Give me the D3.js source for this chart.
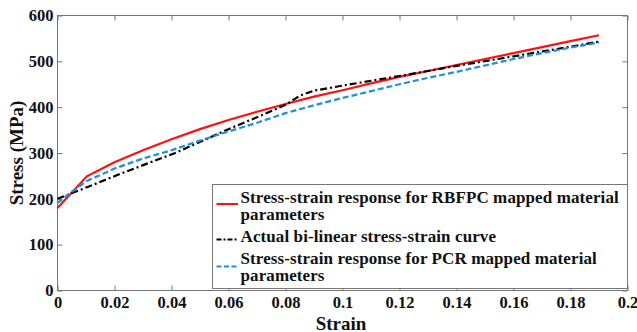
<!DOCTYPE html>
<html>
<head>
<meta charset="utf-8">
<script src="https://cdn.jsdelivr.net/npm/d3@7"></script>
<style>
  body { margin: 0; background: #fff; }
  svg text { font-family: "Times New Roman", "Liberation Serif", "DejaVu Serif", serif; font-weight: bold; }
</style>
</head>
<body>
<svg width="637" height="332"></svg>
<script>
// values
let xTicks = [0, 0.02, 0.04, 0.06, 0.08, 0.1, 0.12, 0.14, 0.16, 0.18, 0.2]
let yTicks = [0, 100, 200, 300, 400, 500, 600]

let redStrain = [0, 0.0103, 0.02, 0.03, 0.04, 0.05, 0.06, 0.07, 0.08, 0.09, 0.1, 0.11, 0.12, 0.13, 0.14, 0.15, 0.16, 0.17, 0.18, 0.19]
let redStress = [180, 249, 280, 306, 330, 352, 372, 390, 407, 423, 437, 452, 466, 479, 492, 505, 518, 531, 544, 557]

let blackStrain = [0, 0.011, 0.0226, 0.0413, 0.06, 0.07, 0.08, 0.085, 0.09, 0.1, 0.12, 0.14, 0.16, 0.18, 0.19]
let blackStress = [200, 227, 256, 300, 352, 378, 405, 425, 436, 447, 468, 490, 511, 532, 543]

let blueStrain = [0, 0.005, 0.01, 0.02, 0.03, 0.04, 0.05, 0.06, 0.07, 0.08, 0.09, 0.1, 0.11, 0.12, 0.13, 0.14, 0.15, 0.16, 0.17, 0.18, 0.19]
let blueStress = [191, 215, 238, 266, 288, 306, 327, 347, 366, 387, 404, 420, 435, 450, 464, 477, 491, 505, 518, 530, 541]

let series = [
  { label: ['Stress-strain response for RBFPC mapped material', 'parameters'], strain: redStrain, stress: redStress, color: '#ff1010', dash: null },
  { label: ['Actual bi-linear stress-strain curve'], strain: blackStrain, stress: blackStress, color: '#000', dash: '7,3,2,3' },
  { label: ['Stress-strain response for PCR mapped material', 'parameters'], strain: blueStrain, stress: blueStress, color: '#1e8fd8', dash: '6,3' }
]

let svg = d3.select('svg')
let m = { left: 57.5, right: 9.5, top: 15.5, bottom: 41.5 }
let w = 637 - m.left - m.right
let h = 332 - m.top - m.bottom

let x = d3.scaleLinear().domain([0, 0.2]).range([0, w])
let y = d3.scaleLinear().domain([0, 600]).range([h, 0])

let g = svg.append('g').attr('transform', `translate(${m.left},${m.top})`)

function styleAxis(sel, labels) {
  sel.select('.domain').remove()
  sel.attr('font-family', null).attr('font-size', null)
  sel.selectAll('.tick line').attr('stroke', '#777')
  sel.selectAll('.tick text')
    .attr('fill', '#111')
    .style('font-size', '16.5px')
  if (!labels) sel.selectAll('.tick text').remove()
}

let fmt = d => d === 0 ? '0' : String(+d.toFixed(2))

g.append('g').attr('transform', `translate(0,${h})`)
  .call(d3.axisBottom(x).tickValues(xTicks).tickFormat(fmt).tickSizeInner(-5).tickPadding(6))
  .call(s => styleAxis(s, true))
g.append('g')
  .call(d3.axisTop(x).tickValues(xTicks).tickSizeInner(-5))
  .call(s => styleAxis(s, false))
g.append('g')
  .call(d3.axisLeft(y).tickValues(yTicks).tickSizeInner(-5).tickPadding(4))
  .call(s => styleAxis(s, true))
g.append('g').attr('transform', `translate(${w},0)`)
  .call(d3.axisRight(y).tickValues(yTicks).tickSizeInner(-5))
  .call(s => styleAxis(s, false))

g.append('rect')
  .attr('width', w).attr('height', h)
  .attr('fill', 'none').attr('stroke', '#777').attr('stroke-width', 1)

let line = d3.line().x(d => x(d[0])).y(d => y(d[1]))

series.forEach(s => {
  g.append('path')
    .datum(s.strain.map((v, i) => [v, s.stress[i]]))
    .attr('d', line)
    .attr('fill', 'none')
    .attr('stroke', s.color)
    .attr('stroke-width', 2.2)
    .attr('stroke-dasharray', s.dash)
})

// legend
let lg = svg.append('g').attr('transform', 'translate(212.5,184.5)')
lg.append('rect')
  .attr('width', 415).attr('height', 104)
  .attr('fill', '#fff').attr('stroke', '#777').attr('stroke-width', 1)

let lineY = [19.5, 55, 82]
let textY = [[18.5, 35.5], [57], [79, 96]]
series.forEach((s, i) => {
  lg.append('line')
    .attr('x1', 4).attr('x2', 25.5)
    .attr('y1', lineY[i]).attr('y2', lineY[i])
    .attr('stroke', s.color).attr('stroke-width', 2)
    .attr('stroke-dasharray', s.dash ? (i === 1 ? '5,2,2,2' : '5,2.5') : null)
  s.label.forEach((t, j) => {
    lg.append('text')
      .attr('x', 28).attr('y', textY[i][j])
      .style('font-size', '17px')
      .style('letter-spacing', '0.1px')
      .attr('fill', '#111')
      .text(t)
  })
})

svg.append('text')
  .attr('x', 341).attr('y', 329.5)
  .attr('text-anchor', 'middle')
  .style('font-size', '19px')
  .attr('fill', '#111')
  .text('Strain')

svg.append('text')
  .attr('transform', `translate(23,153) rotate(-90)`)
  .attr('text-anchor', 'middle')
  .style('font-size', '19px')
  .attr('fill', '#111')
  .text('Stress (MPa)')
</script>
</body>
</html>
